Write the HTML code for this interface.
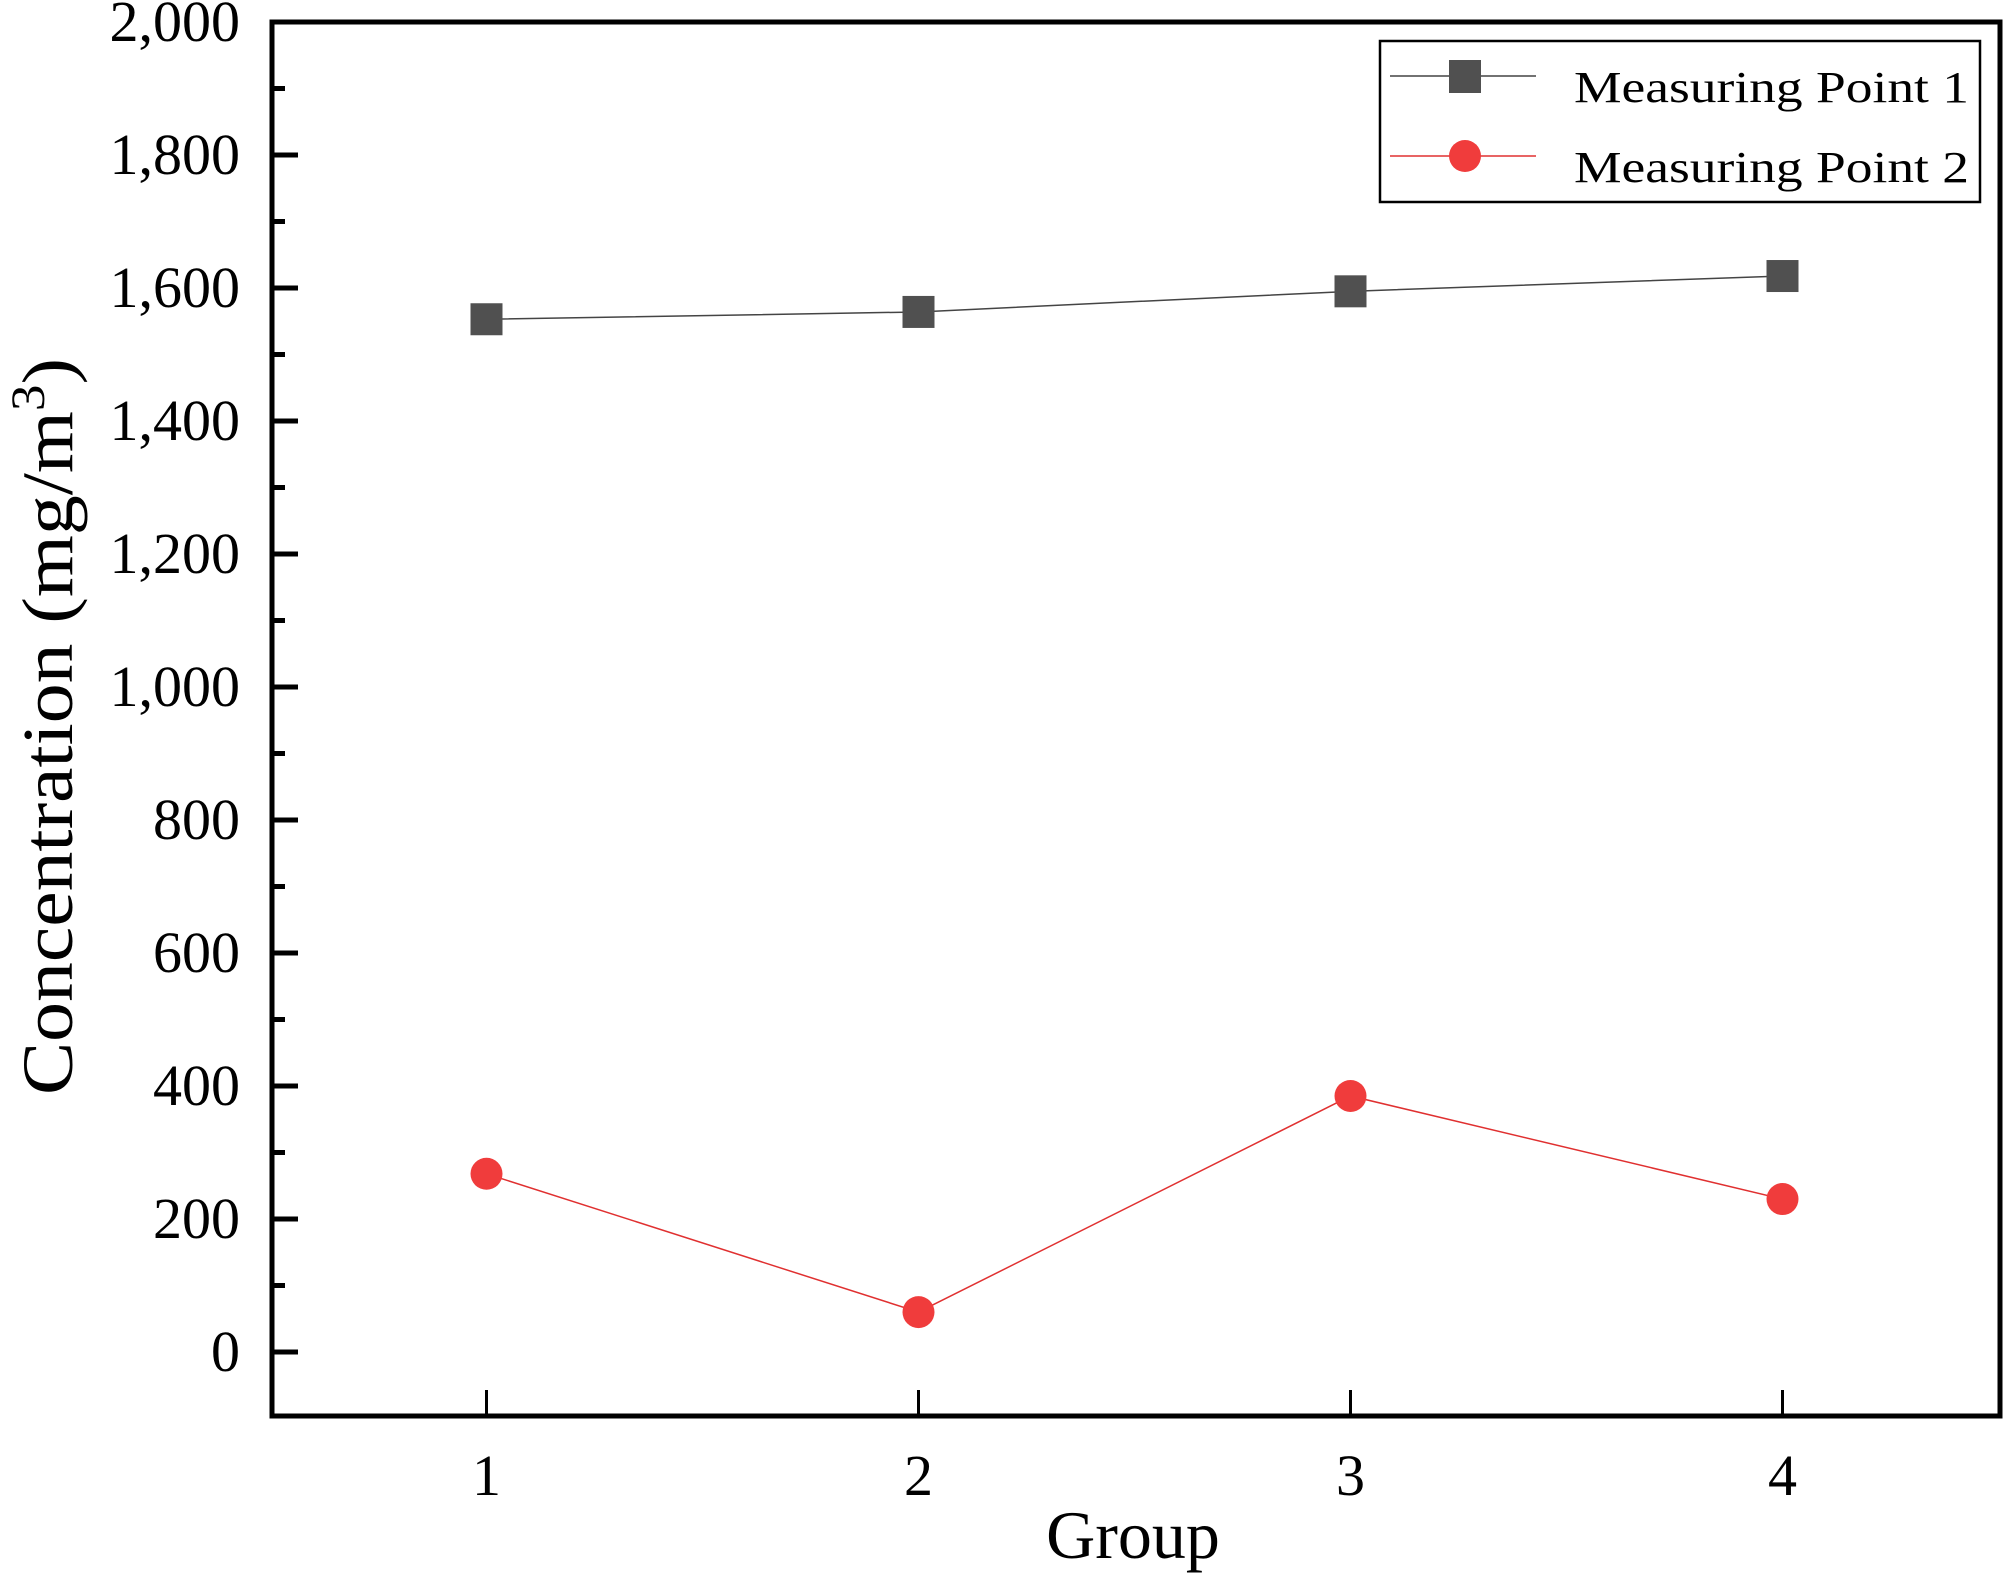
<!DOCTYPE html>
<html><head><meta charset="utf-8"><style>
html,body{margin:0;padding:0;background:#fff;}
svg{display:block;font-family:"Liberation Serif",serif;}
</style></head><body>
<svg id="chart" width="2008" height="1574" viewBox="0 0 2008 1574" xmlns="http://www.w3.org/2000/svg">
<g id="plot"></g>
</svg>
<script>
const categories = [1, 2, 3, 4];
const point1Values = [1553, 1564, 1595, 1618];
const point2Values = [268, 60, 385, 230];
const yTickLabels = [0, 200, 400, 600, 800, 1000, 1200, 1400, 1600, 1800, 2000];
const yMinorTicks = [100, 300, 500, 700, 900, 1100, 1300, 1500, 1700, 1900];

const NS = "http://www.w3.org/2000/svg";
const svg = document.getElementById('plot');
const L = 272, R = 2000, T = 22, B = 1416;
function xs(c){ return 486.5 + (c - 1) * 432; }
function ys(v){ return 1352 - v * 0.665; }
function mk(tag, attrs, parent){
  const e = document.createElementNS(NS, tag);
  for (const k in attrs) e.setAttribute(k, attrs[k]);
  (parent || svg).appendChild(e);
  return e;
}
function fmt(v){ return v.toLocaleString('en-US'); }

// y ticks
yTickLabels.forEach(v => {
  const t = mk('line', {x1: L, x2: L + 26, y1: ys(v), y2: ys(v), stroke: '#000', 'stroke-width': 5});
  
  
  const tx = mk('text', {x: 240, y: ys(v) + 19, 'text-anchor': 'end', 'font-size': 58, fill: '#000'});
  tx.textContent = fmt(v);
  
  
});
yMinorTicks.forEach(v => {
  const t = mk('line', {x1: L, x2: L + 13, y1: ys(v), y2: ys(v), stroke: '#000', 'stroke-width': 5});
  
  
});
// x ticks
categories.forEach(c => {
  const t = mk('line', {x1: xs(c), x2: xs(c), y1: B, y2: B - 26, stroke: '#000', 'stroke-width': 3});
  
  
  const tx = mk('text', {x: xs(c), y: 1495, 'text-anchor': 'middle', 'font-size': 58, fill: '#000'});
  tx.textContent = String(c);
  
  
});
// frame
const fr = mk('rect', {x: L, y: T, width: R - L, height: B - T, fill: 'none', stroke: '#000', 'stroke-width': 5});



// series 1
const l1 = mk('polyline', {points: categories.map((c,i)=>xs(c)+','+ys(point1Values[i])).join(' '), fill: 'none', stroke: '#444', 'stroke-width': 1.5});


categories.forEach((c,i) => {
  const m = mk('rect', {x: xs(c) - 16, y: ys(point1Values[i]) - 16, width: 32, height: 32, fill: '#505050'});
  
  
});
// series 2
const l2 = mk('polyline', {points: categories.map((c,i)=>xs(c)+','+ys(point2Values[i])).join(' '), fill: 'none', stroke: '#e03030', 'stroke-width': 1.5});


categories.forEach((c,i) => {
  const m = mk('circle', {cx: xs(c), cy: ys(point2Values[i]), r: 16, fill: '#f03c3c'});
  
  
});

// legend
const lg = mk('g', {});


const lb = mk('rect', {x: 1380, y: 41, width: 600, height: 161, fill: '#fff', stroke: '#000', 'stroke-width': 2.5}, lg);


[['Measuring Point 1', '#444', 76, 'sq'], ['Measuring Point 2', '#e03030', 156, 'ci']].forEach(r => {
  const e = mk('g', {}, lg);
  
  
  mk('line', {x1: 1390, x2: 1536, y1: r[2], y2: r[2], stroke: r[1], 'stroke-width': 1.5}, e);
  if (r[3] === 'sq') mk('rect', {x: 1449, y: r[2] - 16, width: 32, height: 33, fill: '#505050'}, e);
  else mk('circle', {cx: 1465, cy: r[2], r: 16, fill: '#f03c3c'}, e);
  const t = mk('text', {x: 1574, y: r[2] + 26, 'font-size': 44, fill: '#000', textLength: 395, lengthAdjust: 'spacingAndGlyphs'}, e);
  t.textContent = r[0];
});

// axis titles
const xt = mk('text', {x: 1133, y: 1558, 'text-anchor': 'middle', 'font-size': 68, fill: '#000'});
xt.textContent = 'Group';


const yt = mk('text', {x: 0, y: 0, 'font-size': 72, fill: '#000', transform: 'translate(72,1095) rotate(-90)', textLength: 737, lengthAdjust: 'spacingAndGlyphs'});


yt.appendChild(document.createTextNode('Concentration (mg/m'));
const sup = mk('tspan', {dy: -28, 'font-size': 48}, yt);
sup.textContent = '3';
const cl = mk('tspan', {dy: 28}, yt);
cl.textContent = ')';
</script>
</body></html>
